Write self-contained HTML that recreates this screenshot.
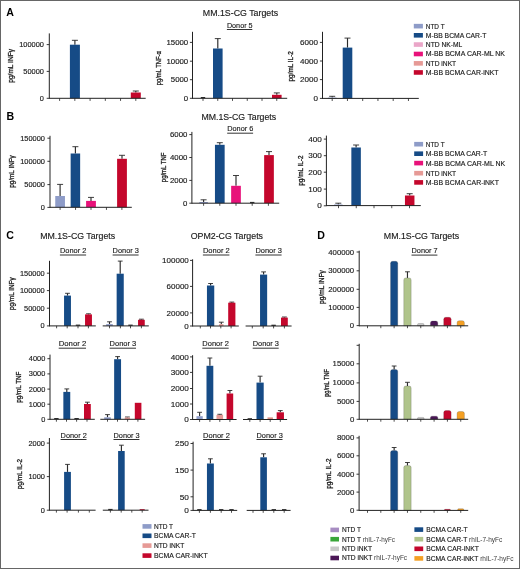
<!DOCTYPE html>
<html><head><meta charset="utf-8"><title>Figure</title>
<style>
html,body{margin:0;padding:0;background:#fff;}
body{width:520px;height:569px;overflow:hidden;}
svg{display:block;font-family:"Liberation Sans", sans-serif;will-change:transform;}
</style></head>
<body>
<svg width="520" height="569" viewBox="0 0 520 569">
<rect x="0" y="0" width="520" height="569" fill="#fff"/>
<text x="6.20" y="15.50" font-size="10.6" text-anchor="start" fill="#000" font-weight="bold">A</text>
<text x="202.80" y="16.00" font-size="8.2" text-anchor="start" fill="#1a1a1a" stroke="#1a1a1a" stroke-width="0.14" textLength="75.30" lengthAdjust="spacingAndGlyphs">MM.1S-CG Targets</text>
<text x="226.90" y="27.50" font-size="8.0" text-anchor="start" fill="#1a1a1a" stroke="#1a1a1a" stroke-width="0.14" textLength="25.70" lengthAdjust="spacingAndGlyphs">Donor 5</text>
<line x1="226.90" y1="29.50" x2="252.30" y2="29.50" stroke="#333" stroke-width="1.0"/>
<line x1="74.90" y1="40.30" x2="74.90" y2="44.70" stroke="#2a2a2a" stroke-width="1.15"/>
<line x1="71.90" y1="40.30" x2="77.90" y2="40.30" stroke="#2a2a2a" stroke-width="0.9"/>
<rect x="69.90" y="44.70" width="10.00" height="53.60" fill="#164b86"/>
<line x1="135.80" y1="91.00" x2="135.80" y2="92.50" stroke="#2a2a2a" stroke-width="1.15"/>
<line x1="132.80" y1="91.00" x2="138.80" y2="91.00" stroke="#2a2a2a" stroke-width="0.9"/>
<rect x="130.80" y="92.50" width="10.00" height="5.80" fill="#c4072c"/>
<line x1="49.30" y1="33.40" x2="49.30" y2="98.80" stroke="#222" stroke-width="1.0"/>
<line x1="49.30" y1="98.30" x2="145.70" y2="98.30" stroke="#222" stroke-width="1.0"/>
<line x1="59.60" y1="98.30" x2="59.60" y2="100.90" stroke="#222" stroke-width="0.8"/>
<line x1="74.84" y1="98.30" x2="74.84" y2="100.90" stroke="#222" stroke-width="0.8"/>
<line x1="90.08" y1="98.30" x2="90.08" y2="100.90" stroke="#222" stroke-width="0.8"/>
<line x1="105.32" y1="98.30" x2="105.32" y2="100.90" stroke="#222" stroke-width="0.8"/>
<line x1="120.56" y1="98.30" x2="120.56" y2="100.90" stroke="#222" stroke-width="0.8"/>
<line x1="135.80" y1="98.30" x2="135.80" y2="100.90" stroke="#222" stroke-width="0.8"/>
<line x1="46.70" y1="98.30" x2="49.30" y2="98.30" stroke="#222" stroke-width="0.9"/>
<text x="43.90" y="100.77" font-size="6.9" text-anchor="end" fill="#1a1a1a" stroke="#1a1a1a" stroke-width="0.14" textLength="4.12" lengthAdjust="spacingAndGlyphs">0</text>
<line x1="46.70" y1="71.40" x2="49.30" y2="71.40" stroke="#222" stroke-width="0.9"/>
<text x="43.90" y="73.87" font-size="6.9" text-anchor="end" fill="#1a1a1a" stroke="#1a1a1a" stroke-width="0.14" textLength="20.60" lengthAdjust="spacingAndGlyphs">50000</text>
<line x1="46.70" y1="44.60" x2="49.30" y2="44.60" stroke="#222" stroke-width="0.9"/>
<text x="43.90" y="47.07" font-size="6.9" text-anchor="end" fill="#1a1a1a" stroke="#1a1a1a" stroke-width="0.14" textLength="24.72" lengthAdjust="spacingAndGlyphs">100000</text>
<text transform="translate(13.20,65.90) rotate(-90)" x="0" y="0" font-size="7.5" text-anchor="middle" fill="#1a1a1a" stroke="#1a1a1a" stroke-width="0.3" textLength="33.60" lengthAdjust="spacingAndGlyphs">pg/mL INF&#947;</text>
<line x1="217.80" y1="38.60" x2="217.80" y2="48.50" stroke="#2a2a2a" stroke-width="1.15"/>
<line x1="214.80" y1="38.60" x2="220.80" y2="38.60" stroke="#2a2a2a" stroke-width="0.9"/>
<rect x="213.00" y="48.50" width="9.60" height="49.80" fill="#164b86"/>
<line x1="276.80" y1="92.90" x2="276.80" y2="94.80" stroke="#2a2a2a" stroke-width="1.15"/>
<line x1="273.80" y1="92.90" x2="279.80" y2="92.90" stroke="#2a2a2a" stroke-width="0.9"/>
<rect x="272.00" y="94.80" width="9.60" height="3.50" fill="#c4072c"/>
<line x1="192.50" y1="31.80" x2="192.50" y2="98.80" stroke="#222" stroke-width="1.0"/>
<line x1="192.50" y1="98.30" x2="287.20" y2="98.30" stroke="#222" stroke-width="1.0"/>
<line x1="203.00" y1="98.30" x2="203.00" y2="100.90" stroke="#222" stroke-width="0.8"/>
<line x1="217.75" y1="98.30" x2="217.75" y2="100.90" stroke="#222" stroke-width="0.8"/>
<line x1="232.50" y1="98.30" x2="232.50" y2="100.90" stroke="#222" stroke-width="0.8"/>
<line x1="247.25" y1="98.30" x2="247.25" y2="100.90" stroke="#222" stroke-width="0.8"/>
<line x1="262.00" y1="98.30" x2="262.00" y2="100.90" stroke="#222" stroke-width="0.8"/>
<line x1="276.75" y1="98.30" x2="276.75" y2="100.90" stroke="#222" stroke-width="0.8"/>
<line x1="189.90" y1="98.30" x2="192.50" y2="98.30" stroke="#222" stroke-width="0.9"/>
<text x="188.20" y="100.91" font-size="7.3" text-anchor="end" fill="#1a1a1a" stroke="#1a1a1a" stroke-width="0.14" textLength="4.35" lengthAdjust="spacingAndGlyphs">0</text>
<line x1="189.90" y1="79.70" x2="192.50" y2="79.70" stroke="#222" stroke-width="0.9"/>
<text x="188.20" y="82.31" font-size="7.3" text-anchor="end" fill="#1a1a1a" stroke="#1a1a1a" stroke-width="0.14" textLength="17.40" lengthAdjust="spacingAndGlyphs">5000</text>
<line x1="189.90" y1="61.20" x2="192.50" y2="61.20" stroke="#222" stroke-width="0.9"/>
<text x="188.20" y="63.81" font-size="7.3" text-anchor="end" fill="#1a1a1a" stroke="#1a1a1a" stroke-width="0.14" textLength="21.75" lengthAdjust="spacingAndGlyphs">10000</text>
<line x1="189.90" y1="42.40" x2="192.50" y2="42.40" stroke="#222" stroke-width="0.9"/>
<text x="188.20" y="45.01" font-size="7.3" text-anchor="end" fill="#1a1a1a" stroke="#1a1a1a" stroke-width="0.14" textLength="21.75" lengthAdjust="spacingAndGlyphs">15000</text>
<rect x="200.80" y="97.00" width="4.40" height="1.30" fill="#2a2a2a"/>
<text transform="translate(161.20,68.20) rotate(-90)" x="0" y="0" font-size="7.5" text-anchor="middle" fill="#1a1a1a" stroke="#1a1a1a" stroke-width="0.3" textLength="34.20" lengthAdjust="spacingAndGlyphs">pg/mL TNF-&#945;</text>
<line x1="332.20" y1="96.30" x2="332.20" y2="97.60" stroke="#2a2a2a" stroke-width="1.15"/>
<line x1="329.20" y1="96.30" x2="335.20" y2="96.30" stroke="#2a2a2a" stroke-width="0.9"/>
<rect x="327.95" y="97.60" width="8.50" height="0.80" fill="#8e9cc8"/>
<line x1="347.50" y1="38.10" x2="347.50" y2="47.60" stroke="#2a2a2a" stroke-width="1.15"/>
<line x1="344.50" y1="38.10" x2="350.50" y2="38.10" stroke="#2a2a2a" stroke-width="0.9"/>
<rect x="342.70" y="47.60" width="9.60" height="50.80" fill="#164b86"/>
<line x1="322.50" y1="31.80" x2="322.50" y2="98.90" stroke="#222" stroke-width="1.0"/>
<line x1="322.50" y1="98.40" x2="418.80" y2="98.40" stroke="#222" stroke-width="1.0"/>
<line x1="332.20" y1="98.40" x2="332.20" y2="101.00" stroke="#222" stroke-width="0.8"/>
<line x1="347.45" y1="98.40" x2="347.45" y2="101.00" stroke="#222" stroke-width="0.8"/>
<line x1="362.70" y1="98.40" x2="362.70" y2="101.00" stroke="#222" stroke-width="0.8"/>
<line x1="377.95" y1="98.40" x2="377.95" y2="101.00" stroke="#222" stroke-width="0.8"/>
<line x1="393.20" y1="98.40" x2="393.20" y2="101.00" stroke="#222" stroke-width="0.8"/>
<line x1="408.45" y1="98.40" x2="408.45" y2="101.00" stroke="#222" stroke-width="0.8"/>
<line x1="319.90" y1="98.40" x2="322.50" y2="98.40" stroke="#222" stroke-width="0.9"/>
<text x="317.90" y="101.05" font-size="7.4" text-anchor="end" fill="#1a1a1a" stroke="#1a1a1a" stroke-width="0.14" textLength="4.50" lengthAdjust="spacingAndGlyphs">0</text>
<line x1="319.90" y1="79.60" x2="322.50" y2="79.60" stroke="#222" stroke-width="0.9"/>
<text x="317.90" y="82.25" font-size="7.4" text-anchor="end" fill="#1a1a1a" stroke="#1a1a1a" stroke-width="0.14" textLength="18.00" lengthAdjust="spacingAndGlyphs">2000</text>
<line x1="319.90" y1="61.00" x2="322.50" y2="61.00" stroke="#222" stroke-width="0.9"/>
<text x="317.90" y="63.65" font-size="7.4" text-anchor="end" fill="#1a1a1a" stroke="#1a1a1a" stroke-width="0.14" textLength="18.00" lengthAdjust="spacingAndGlyphs">4000</text>
<line x1="319.90" y1="42.40" x2="322.50" y2="42.40" stroke="#222" stroke-width="0.9"/>
<text x="317.90" y="45.05" font-size="7.4" text-anchor="end" fill="#1a1a1a" stroke="#1a1a1a" stroke-width="0.14" textLength="18.00" lengthAdjust="spacingAndGlyphs">6000</text>
<text transform="translate(293.30,66.30) rotate(-90)" x="0" y="0" font-size="7.5" text-anchor="middle" fill="#1a1a1a" stroke="#1a1a1a" stroke-width="0.3" textLength="30.30" lengthAdjust="spacingAndGlyphs">pg/mL IL-2</text>
<rect x="413.80" y="23.85" width="9.10" height="4.60" fill="#8e9cc8"/>
<text x="425.80" y="28.55" font-size="6.7" text-anchor="start" fill="#1a1a1a" stroke="#1a1a1a" stroke-width="0.14" textLength="18.80" lengthAdjust="spacingAndGlyphs">NTD T</text>
<rect x="413.80" y="33.00" width="9.10" height="4.60" fill="#164b86"/>
<text x="425.80" y="37.70" font-size="6.7" text-anchor="start" fill="#1a1a1a" stroke="#1a1a1a" stroke-width="0.14" textLength="60.60" lengthAdjust="spacingAndGlyphs">M-BB BCMA CAR-T</text>
<rect x="413.80" y="42.25" width="9.10" height="4.60" fill="#eaa6c8"/>
<text x="425.80" y="46.95" font-size="6.7" text-anchor="start" fill="#1a1a1a" stroke="#1a1a1a" stroke-width="0.14" textLength="36.50" lengthAdjust="spacingAndGlyphs">NTD NK-ML</text>
<rect x="413.80" y="51.70" width="9.10" height="4.60" fill="#e8127a"/>
<text x="425.80" y="56.40" font-size="6.7" text-anchor="start" fill="#1a1a1a" stroke="#1a1a1a" stroke-width="0.14" textLength="79.20" lengthAdjust="spacingAndGlyphs">M-BB BCMA CAR-ML NK</text>
<rect x="413.80" y="61.05" width="9.10" height="4.60" fill="#e69a96"/>
<text x="425.80" y="65.75" font-size="6.7" text-anchor="start" fill="#1a1a1a" stroke="#1a1a1a" stroke-width="0.14" textLength="30.40" lengthAdjust="spacingAndGlyphs">NTD iNKT</text>
<rect x="413.80" y="70.15" width="9.10" height="4.60" fill="#c4072c"/>
<text x="425.80" y="74.85" font-size="6.7" text-anchor="start" fill="#1a1a1a" stroke="#1a1a1a" stroke-width="0.14" textLength="72.70" lengthAdjust="spacingAndGlyphs">M-BB BCMA CAR-iNKT</text>
<text x="6.60" y="119.70" font-size="10.6" text-anchor="start" fill="#000" font-weight="bold">B</text>
<text x="201.40" y="120.00" font-size="8.2" text-anchor="start" fill="#1a1a1a" stroke="#1a1a1a" stroke-width="0.14" textLength="74.70" lengthAdjust="spacingAndGlyphs">MM.1S-CG Targets</text>
<text x="227.20" y="131.20" font-size="8.0" text-anchor="start" fill="#1a1a1a" stroke="#1a1a1a" stroke-width="0.14" textLength="26.20" lengthAdjust="spacingAndGlyphs">Donor 6</text>
<line x1="227.20" y1="133.20" x2="253.10" y2="133.20" stroke="#333" stroke-width="1.0"/>
<line x1="60.10" y1="184.40" x2="60.10" y2="196.00" stroke="#2a2a2a" stroke-width="1.15"/>
<line x1="57.10" y1="184.40" x2="63.10" y2="184.40" stroke="#2a2a2a" stroke-width="0.9"/>
<rect x="55.25" y="196.00" width="9.70" height="11.30" fill="#8e9cc8"/>
<line x1="75.40" y1="146.70" x2="75.40" y2="153.50" stroke="#2a2a2a" stroke-width="1.15"/>
<line x1="72.40" y1="146.70" x2="78.40" y2="146.70" stroke="#2a2a2a" stroke-width="0.9"/>
<rect x="70.65" y="153.50" width="9.50" height="53.80" fill="#164b86"/>
<line x1="91.00" y1="197.40" x2="91.00" y2="200.90" stroke="#2a2a2a" stroke-width="1.15"/>
<line x1="88.00" y1="197.40" x2="94.00" y2="197.40" stroke="#2a2a2a" stroke-width="0.9"/>
<rect x="86.10" y="200.90" width="9.80" height="6.40" fill="#e8127a"/>
<line x1="122.00" y1="155.30" x2="122.00" y2="158.80" stroke="#2a2a2a" stroke-width="1.15"/>
<line x1="119.00" y1="155.30" x2="125.00" y2="155.30" stroke="#2a2a2a" stroke-width="0.9"/>
<rect x="117.10" y="158.80" width="9.80" height="48.50" fill="#c4072c"/>
<line x1="50.00" y1="135.80" x2="50.00" y2="207.80" stroke="#222" stroke-width="1.0"/>
<line x1="50.00" y1="207.30" x2="131.80" y2="207.30" stroke="#222" stroke-width="1.0"/>
<line x1="60.10" y1="207.30" x2="60.10" y2="209.90" stroke="#222" stroke-width="0.8"/>
<line x1="75.55" y1="207.30" x2="75.55" y2="209.90" stroke="#222" stroke-width="0.8"/>
<line x1="91.00" y1="207.30" x2="91.00" y2="209.90" stroke="#222" stroke-width="0.8"/>
<line x1="106.45" y1="207.30" x2="106.45" y2="209.90" stroke="#222" stroke-width="0.8"/>
<line x1="121.90" y1="207.30" x2="121.90" y2="209.90" stroke="#222" stroke-width="0.8"/>
<line x1="47.40" y1="207.40" x2="50.00" y2="207.40" stroke="#222" stroke-width="0.9"/>
<text x="44.90" y="209.87" font-size="6.9" text-anchor="end" fill="#1a1a1a" stroke="#1a1a1a" stroke-width="0.14" textLength="4.12" lengthAdjust="spacingAndGlyphs">0</text>
<line x1="47.40" y1="184.60" x2="50.00" y2="184.60" stroke="#222" stroke-width="0.9"/>
<text x="44.90" y="187.07" font-size="6.9" text-anchor="end" fill="#1a1a1a" stroke="#1a1a1a" stroke-width="0.14" textLength="20.60" lengthAdjust="spacingAndGlyphs">50000</text>
<line x1="47.40" y1="161.30" x2="50.00" y2="161.30" stroke="#222" stroke-width="0.9"/>
<text x="44.90" y="163.77" font-size="6.9" text-anchor="end" fill="#1a1a1a" stroke="#1a1a1a" stroke-width="0.14" textLength="24.72" lengthAdjust="spacingAndGlyphs">100000</text>
<line x1="47.40" y1="138.20" x2="50.00" y2="138.20" stroke="#222" stroke-width="0.9"/>
<text x="44.90" y="140.67" font-size="6.9" text-anchor="end" fill="#1a1a1a" stroke="#1a1a1a" stroke-width="0.14" textLength="24.72" lengthAdjust="spacingAndGlyphs">150000</text>
<text transform="translate(14.30,171.50) rotate(-90)" x="0" y="0" font-size="7.5" text-anchor="middle" fill="#1a1a1a" stroke="#1a1a1a" stroke-width="0.3" textLength="32.50" lengthAdjust="spacingAndGlyphs">pg/mL INF&#947;</text>
<line x1="203.60" y1="199.80" x2="203.60" y2="202.00" stroke="#2a2a2a" stroke-width="1.15"/>
<line x1="200.60" y1="199.80" x2="206.60" y2="199.80" stroke="#2a2a2a" stroke-width="0.9"/>
<rect x="199.35" y="202.00" width="8.50" height="1.20" fill="#8e9cc8"/>
<line x1="219.80" y1="142.70" x2="219.80" y2="144.80" stroke="#2a2a2a" stroke-width="1.15"/>
<line x1="216.80" y1="142.70" x2="222.80" y2="142.70" stroke="#2a2a2a" stroke-width="0.9"/>
<rect x="214.95" y="144.80" width="9.70" height="58.40" fill="#164b86"/>
<line x1="236.00" y1="175.50" x2="236.00" y2="185.80" stroke="#2a2a2a" stroke-width="1.15"/>
<line x1="233.00" y1="175.50" x2="239.00" y2="175.50" stroke="#2a2a2a" stroke-width="0.9"/>
<rect x="231.15" y="185.80" width="9.70" height="17.40" fill="#e8127a"/>
<line x1="269.00" y1="151.60" x2="269.00" y2="155.10" stroke="#2a2a2a" stroke-width="1.15"/>
<line x1="266.00" y1="151.60" x2="272.00" y2="151.60" stroke="#2a2a2a" stroke-width="0.9"/>
<rect x="264.15" y="155.10" width="9.70" height="48.10" fill="#c4072c"/>
<line x1="191.90" y1="131.90" x2="191.90" y2="203.70" stroke="#222" stroke-width="1.0"/>
<line x1="191.90" y1="203.20" x2="279.20" y2="203.20" stroke="#222" stroke-width="1.0"/>
<line x1="203.60" y1="203.20" x2="203.60" y2="205.80" stroke="#222" stroke-width="0.8"/>
<line x1="219.80" y1="203.20" x2="219.80" y2="205.80" stroke="#222" stroke-width="0.8"/>
<line x1="236.00" y1="203.20" x2="236.00" y2="205.80" stroke="#222" stroke-width="0.8"/>
<line x1="252.20" y1="203.20" x2="252.20" y2="205.80" stroke="#222" stroke-width="0.8"/>
<line x1="268.40" y1="203.20" x2="268.40" y2="205.80" stroke="#222" stroke-width="0.8"/>
<line x1="189.30" y1="203.20" x2="191.90" y2="203.20" stroke="#222" stroke-width="0.9"/>
<text x="187.40" y="205.81" font-size="7.3" text-anchor="end" fill="#1a1a1a" stroke="#1a1a1a" stroke-width="0.14" textLength="4.35" lengthAdjust="spacingAndGlyphs">0</text>
<line x1="189.30" y1="180.40" x2="191.90" y2="180.40" stroke="#222" stroke-width="0.9"/>
<text x="187.40" y="183.01" font-size="7.3" text-anchor="end" fill="#1a1a1a" stroke="#1a1a1a" stroke-width="0.14" textLength="17.40" lengthAdjust="spacingAndGlyphs">2000</text>
<line x1="189.30" y1="157.50" x2="191.90" y2="157.50" stroke="#222" stroke-width="0.9"/>
<text x="187.40" y="160.11" font-size="7.3" text-anchor="end" fill="#1a1a1a" stroke="#1a1a1a" stroke-width="0.14" textLength="17.40" lengthAdjust="spacingAndGlyphs">4000</text>
<line x1="189.30" y1="134.60" x2="191.90" y2="134.60" stroke="#222" stroke-width="0.9"/>
<text x="187.40" y="137.21" font-size="7.3" text-anchor="end" fill="#1a1a1a" stroke="#1a1a1a" stroke-width="0.14" textLength="17.40" lengthAdjust="spacingAndGlyphs">6000</text>
<rect x="250.00" y="201.90" width="4.40" height="1.30" fill="#2a2a2a"/>
<text transform="translate(165.60,167.40) rotate(-90)" x="0" y="0" font-size="7.5" text-anchor="middle" fill="#1a1a1a" stroke="#1a1a1a" stroke-width="0.3" textLength="29.60" lengthAdjust="spacingAndGlyphs">pg/mL TNF</text>
<line x1="338.30" y1="203.20" x2="338.30" y2="204.50" stroke="#2a2a2a" stroke-width="1.15"/>
<line x1="335.30" y1="203.20" x2="341.30" y2="203.20" stroke="#2a2a2a" stroke-width="0.9"/>
<rect x="334.05" y="204.50" width="8.50" height="1.10" fill="#8e9cc8"/>
<line x1="356.10" y1="145.00" x2="356.10" y2="147.50" stroke="#2a2a2a" stroke-width="1.15"/>
<line x1="353.10" y1="145.00" x2="359.10" y2="145.00" stroke="#2a2a2a" stroke-width="0.9"/>
<rect x="351.35" y="147.50" width="9.50" height="58.10" fill="#164b86"/>
<line x1="409.70" y1="193.70" x2="409.70" y2="195.50" stroke="#2a2a2a" stroke-width="1.15"/>
<line x1="406.70" y1="193.70" x2="412.70" y2="193.70" stroke="#2a2a2a" stroke-width="0.9"/>
<rect x="404.95" y="195.50" width="9.50" height="10.10" fill="#c4072c"/>
<line x1="326.40" y1="135.60" x2="326.40" y2="206.10" stroke="#222" stroke-width="1.0"/>
<line x1="326.40" y1="205.60" x2="420.80" y2="205.60" stroke="#222" stroke-width="1.0"/>
<line x1="338.50" y1="205.60" x2="338.50" y2="208.20" stroke="#222" stroke-width="0.8"/>
<line x1="356.25" y1="205.60" x2="356.25" y2="208.20" stroke="#222" stroke-width="0.8"/>
<line x1="374.00" y1="205.60" x2="374.00" y2="208.20" stroke="#222" stroke-width="0.8"/>
<line x1="391.75" y1="205.60" x2="391.75" y2="208.20" stroke="#222" stroke-width="0.8"/>
<line x1="409.50" y1="205.60" x2="409.50" y2="208.20" stroke="#222" stroke-width="0.8"/>
<line x1="323.80" y1="205.80" x2="326.40" y2="205.80" stroke="#222" stroke-width="0.9"/>
<text x="321.90" y="208.45" font-size="7.4" text-anchor="end" fill="#1a1a1a" stroke="#1a1a1a" stroke-width="0.14" textLength="4.55" lengthAdjust="spacingAndGlyphs">0</text>
<line x1="323.80" y1="189.10" x2="326.40" y2="189.10" stroke="#222" stroke-width="0.9"/>
<text x="321.90" y="191.75" font-size="7.4" text-anchor="end" fill="#1a1a1a" stroke="#1a1a1a" stroke-width="0.14" textLength="13.65" lengthAdjust="spacingAndGlyphs">100</text>
<line x1="323.80" y1="172.20" x2="326.40" y2="172.20" stroke="#222" stroke-width="0.9"/>
<text x="321.90" y="174.85" font-size="7.4" text-anchor="end" fill="#1a1a1a" stroke="#1a1a1a" stroke-width="0.14" textLength="13.65" lengthAdjust="spacingAndGlyphs">200</text>
<line x1="323.80" y1="155.70" x2="326.40" y2="155.70" stroke="#222" stroke-width="0.9"/>
<text x="321.90" y="158.35" font-size="7.4" text-anchor="end" fill="#1a1a1a" stroke="#1a1a1a" stroke-width="0.14" textLength="13.65" lengthAdjust="spacingAndGlyphs">300</text>
<line x1="323.80" y1="139.10" x2="326.40" y2="139.10" stroke="#222" stroke-width="0.9"/>
<text x="321.90" y="141.75" font-size="7.4" text-anchor="end" fill="#1a1a1a" stroke="#1a1a1a" stroke-width="0.14" textLength="13.65" lengthAdjust="spacingAndGlyphs">400</text>
<text transform="translate(302.70,170.60) rotate(-90)" x="0" y="0" font-size="7.5" text-anchor="middle" fill="#1a1a1a" stroke="#1a1a1a" stroke-width="0.3" textLength="30.30" lengthAdjust="spacingAndGlyphs">pg/mL IL-2</text>
<rect x="414.20" y="141.90" width="8.90" height="4.60" fill="#8e9cc8"/>
<text x="425.80" y="146.60" font-size="6.7" text-anchor="start" fill="#1a1a1a" stroke="#1a1a1a" stroke-width="0.14" textLength="18.80" lengthAdjust="spacingAndGlyphs">NTD T</text>
<rect x="414.20" y="151.40" width="8.90" height="4.60" fill="#164b86"/>
<text x="425.80" y="156.10" font-size="6.7" text-anchor="start" fill="#1a1a1a" stroke="#1a1a1a" stroke-width="0.14" textLength="61.50" lengthAdjust="spacingAndGlyphs">M-BB BCMA CAR-T</text>
<rect x="414.20" y="160.80" width="8.90" height="4.60" fill="#e8127a"/>
<text x="425.80" y="165.50" font-size="6.7" text-anchor="start" fill="#1a1a1a" stroke="#1a1a1a" stroke-width="0.14" textLength="79.40" lengthAdjust="spacingAndGlyphs">M-BB BCMA CAR-ML NK</text>
<rect x="414.20" y="170.90" width="8.90" height="4.60" fill="#e69a96"/>
<text x="425.80" y="175.60" font-size="6.7" text-anchor="start" fill="#1a1a1a" stroke="#1a1a1a" stroke-width="0.14" textLength="30.40" lengthAdjust="spacingAndGlyphs">NTD iNKT</text>
<rect x="414.20" y="180.10" width="8.90" height="4.60" fill="#c4072c"/>
<text x="425.80" y="184.80" font-size="6.7" text-anchor="start" fill="#1a1a1a" stroke="#1a1a1a" stroke-width="0.14" textLength="73.10" lengthAdjust="spacingAndGlyphs">M-BB BCMA CAR-iNKT</text>
<text x="6.20" y="239.20" font-size="10.6" text-anchor="start" fill="#000" font-weight="bold">C</text>
<text x="40.20" y="239.30" font-size="8.2" text-anchor="start" fill="#1a1a1a" stroke="#1a1a1a" stroke-width="0.14" textLength="74.90" lengthAdjust="spacingAndGlyphs">MM.1S-CG Targets</text>
<text x="190.70" y="239.30" font-size="8.2" text-anchor="start" fill="#1a1a1a" stroke="#1a1a1a" stroke-width="0.14" textLength="72.30" lengthAdjust="spacingAndGlyphs">OPM2-CG Targets</text>
<text x="59.90" y="253.00" font-size="8.0" text-anchor="start" fill="#1a1a1a" stroke="#1a1a1a" stroke-width="0.14" textLength="26.50" lengthAdjust="spacingAndGlyphs">Donor 2</text>
<line x1="59.90" y1="255.00" x2="86.10" y2="255.00" stroke="#333" stroke-width="1.0"/>
<text x="112.60" y="253.00" font-size="8.0" text-anchor="start" fill="#1a1a1a" stroke="#1a1a1a" stroke-width="0.14" textLength="26.30" lengthAdjust="spacingAndGlyphs">Donor 3</text>
<line x1="112.60" y1="255.00" x2="138.60" y2="255.00" stroke="#333" stroke-width="1.0"/>
<text x="202.90" y="253.00" font-size="8.0" text-anchor="start" fill="#1a1a1a" stroke="#1a1a1a" stroke-width="0.14" textLength="26.80" lengthAdjust="spacingAndGlyphs">Donor 2</text>
<line x1="202.90" y1="255.00" x2="229.40" y2="255.00" stroke="#333" stroke-width="1.0"/>
<text x="255.40" y="253.00" font-size="8.0" text-anchor="start" fill="#1a1a1a" stroke="#1a1a1a" stroke-width="0.14" textLength="26.50" lengthAdjust="spacingAndGlyphs">Donor 3</text>
<line x1="255.40" y1="255.00" x2="281.60" y2="255.00" stroke="#333" stroke-width="1.0"/>
<text x="58.70" y="346.20" font-size="8.0" text-anchor="start" fill="#1a1a1a" stroke="#1a1a1a" stroke-width="0.14" textLength="27.60" lengthAdjust="spacingAndGlyphs">Donor 2</text>
<line x1="58.70" y1="348.20" x2="86.00" y2="348.20" stroke="#333" stroke-width="1.0"/>
<text x="109.60" y="346.20" font-size="8.0" text-anchor="start" fill="#1a1a1a" stroke="#1a1a1a" stroke-width="0.14" textLength="26.70" lengthAdjust="spacingAndGlyphs">Donor 3</text>
<line x1="109.60" y1="348.20" x2="136.00" y2="348.20" stroke="#333" stroke-width="1.0"/>
<text x="202.30" y="346.20" font-size="8.0" text-anchor="start" fill="#1a1a1a" stroke="#1a1a1a" stroke-width="0.14" textLength="26.70" lengthAdjust="spacingAndGlyphs">Donor 2</text>
<line x1="202.30" y1="348.20" x2="228.70" y2="348.20" stroke="#333" stroke-width="1.0"/>
<text x="252.70" y="346.20" font-size="8.0" text-anchor="start" fill="#1a1a1a" stroke="#1a1a1a" stroke-width="0.14" textLength="26.30" lengthAdjust="spacingAndGlyphs">Donor 3</text>
<line x1="252.70" y1="348.20" x2="278.70" y2="348.20" stroke="#333" stroke-width="1.0"/>
<text x="60.60" y="437.50" font-size="8.0" text-anchor="start" fill="#1a1a1a" stroke="#1a1a1a" stroke-width="0.14" textLength="26.20" lengthAdjust="spacingAndGlyphs">Donor 2</text>
<line x1="60.60" y1="439.50" x2="86.50" y2="439.50" stroke="#333" stroke-width="1.0"/>
<text x="113.50" y="437.50" font-size="8.0" text-anchor="start" fill="#1a1a1a" stroke="#1a1a1a" stroke-width="0.14" textLength="26.20" lengthAdjust="spacingAndGlyphs">Donor 3</text>
<line x1="113.50" y1="439.50" x2="139.40" y2="439.50" stroke="#333" stroke-width="1.0"/>
<text x="203.10" y="437.50" font-size="8.0" text-anchor="start" fill="#1a1a1a" stroke="#1a1a1a" stroke-width="0.14" textLength="26.80" lengthAdjust="spacingAndGlyphs">Donor 2</text>
<line x1="203.10" y1="439.50" x2="229.60" y2="439.50" stroke="#333" stroke-width="1.0"/>
<text x="256.50" y="437.50" font-size="8.0" text-anchor="start" fill="#1a1a1a" stroke="#1a1a1a" stroke-width="0.14" textLength="26.30" lengthAdjust="spacingAndGlyphs">Donor 3</text>
<line x1="256.50" y1="439.50" x2="282.50" y2="439.50" stroke="#333" stroke-width="1.0"/>
<line x1="67.50" y1="293.30" x2="67.50" y2="295.60" stroke="#2a2a2a" stroke-width="1.15"/>
<line x1="65.10" y1="293.30" x2="69.90" y2="293.30" stroke="#2a2a2a" stroke-width="0.9"/>
<rect x="64.05" y="295.60" width="6.90" height="30.30" fill="#164b86"/>
<line x1="88.50" y1="313.80" x2="88.50" y2="314.40" stroke="#2a2a2a" stroke-width="1.15"/>
<line x1="86.10" y1="313.80" x2="90.90" y2="313.80" stroke="#2a2a2a" stroke-width="0.9"/>
<rect x="85.05" y="314.40" width="6.90" height="11.50" fill="#c4072c"/>
<line x1="109.50" y1="321.80" x2="109.50" y2="324.10" stroke="#2a2a2a" stroke-width="1.15"/>
<line x1="107.10" y1="321.80" x2="111.90" y2="321.80" stroke="#2a2a2a" stroke-width="0.9"/>
<rect x="106.20" y="324.10" width="6.60" height="1.80" fill="#8e9cc8"/>
<line x1="120.20" y1="261.10" x2="120.20" y2="273.70" stroke="#2a2a2a" stroke-width="1.15"/>
<line x1="117.80" y1="261.10" x2="122.60" y2="261.10" stroke="#2a2a2a" stroke-width="0.9"/>
<rect x="116.65" y="273.70" width="7.10" height="52.20" fill="#164b86"/>
<line x1="141.40" y1="319.20" x2="141.40" y2="319.80" stroke="#2a2a2a" stroke-width="1.15"/>
<line x1="139.00" y1="319.20" x2="143.80" y2="319.20" stroke="#2a2a2a" stroke-width="0.9"/>
<rect x="138.05" y="319.80" width="6.70" height="6.10" fill="#c4072c"/>
<line x1="49.50" y1="260.80" x2="49.50" y2="326.40" stroke="#222" stroke-width="1.0"/>
<line x1="49.50" y1="325.90" x2="95.80" y2="325.90" stroke="#222" stroke-width="1.0"/>
<line x1="102.70" y1="325.90" x2="148.80" y2="325.90" stroke="#222" stroke-width="1.0"/>
<line x1="56.60" y1="325.90" x2="56.60" y2="328.30" stroke="#222" stroke-width="0.8"/>
<line x1="67.20" y1="325.90" x2="67.20" y2="328.30" stroke="#222" stroke-width="0.8"/>
<line x1="78.00" y1="325.90" x2="78.00" y2="328.30" stroke="#222" stroke-width="0.8"/>
<line x1="88.40" y1="325.90" x2="88.40" y2="328.30" stroke="#222" stroke-width="0.8"/>
<line x1="109.50" y1="325.90" x2="109.50" y2="328.30" stroke="#222" stroke-width="0.8"/>
<line x1="120.40" y1="325.90" x2="120.40" y2="328.30" stroke="#222" stroke-width="0.8"/>
<line x1="130.50" y1="325.90" x2="130.50" y2="328.30" stroke="#222" stroke-width="0.8"/>
<line x1="141.40" y1="325.90" x2="141.40" y2="328.30" stroke="#222" stroke-width="0.8"/>
<line x1="46.90" y1="325.90" x2="49.50" y2="325.90" stroke="#222" stroke-width="0.9"/>
<text x="44.70" y="328.37" font-size="6.9" text-anchor="end" fill="#1a1a1a" stroke="#1a1a1a" stroke-width="0.14" textLength="4.12" lengthAdjust="spacingAndGlyphs">0</text>
<line x1="46.90" y1="308.20" x2="49.50" y2="308.20" stroke="#222" stroke-width="0.9"/>
<text x="44.70" y="310.67" font-size="6.9" text-anchor="end" fill="#1a1a1a" stroke="#1a1a1a" stroke-width="0.14" textLength="20.60" lengthAdjust="spacingAndGlyphs">50000</text>
<line x1="46.90" y1="290.60" x2="49.50" y2="290.60" stroke="#222" stroke-width="0.9"/>
<text x="44.70" y="293.07" font-size="6.9" text-anchor="end" fill="#1a1a1a" stroke="#1a1a1a" stroke-width="0.14" textLength="24.72" lengthAdjust="spacingAndGlyphs">100000</text>
<line x1="46.90" y1="273.20" x2="49.50" y2="273.20" stroke="#222" stroke-width="0.9"/>
<text x="44.70" y="275.67" font-size="6.9" text-anchor="end" fill="#1a1a1a" stroke="#1a1a1a" stroke-width="0.14" textLength="24.72" lengthAdjust="spacingAndGlyphs">150000</text>
<rect x="75.80" y="324.60" width="4.40" height="1.30" fill="#2a2a2a"/>
<rect x="128.30" y="324.60" width="4.40" height="1.30" fill="#2a2a2a"/>
<text transform="translate(14.00,293.70) rotate(-90)" x="0" y="0" font-size="7.5" text-anchor="middle" fill="#1a1a1a" stroke="#1a1a1a" stroke-width="0.3" textLength="32.60" lengthAdjust="spacingAndGlyphs">pg/mL INF&#947;</text>
<line x1="210.60" y1="283.50" x2="210.60" y2="285.50" stroke="#2a2a2a" stroke-width="1.15"/>
<line x1="208.20" y1="283.50" x2="213.00" y2="283.50" stroke="#2a2a2a" stroke-width="0.9"/>
<rect x="206.95" y="285.50" width="7.30" height="40.50" fill="#164b86"/>
<line x1="221.30" y1="322.20" x2="221.30" y2="324.20" stroke="#2a2a2a" stroke-width="1.15"/>
<line x1="218.90" y1="322.20" x2="223.70" y2="322.20" stroke="#2a2a2a" stroke-width="0.9"/>
<rect x="219.10" y="324.20" width="4.40" height="1.80" fill="#e69a96"/>
<line x1="231.80" y1="302.10" x2="231.80" y2="302.70" stroke="#2a2a2a" stroke-width="1.15"/>
<line x1="229.40" y1="302.10" x2="234.20" y2="302.10" stroke="#2a2a2a" stroke-width="0.9"/>
<rect x="228.20" y="302.70" width="7.20" height="23.30" fill="#c4072c"/>
<line x1="263.60" y1="271.90" x2="263.60" y2="274.60" stroke="#2a2a2a" stroke-width="1.15"/>
<line x1="261.20" y1="271.90" x2="266.00" y2="271.90" stroke="#2a2a2a" stroke-width="0.9"/>
<rect x="260.05" y="274.60" width="7.10" height="51.40" fill="#164b86"/>
<line x1="284.40" y1="317.00" x2="284.40" y2="317.60" stroke="#2a2a2a" stroke-width="1.15"/>
<line x1="282.00" y1="317.00" x2="286.80" y2="317.00" stroke="#2a2a2a" stroke-width="0.9"/>
<rect x="281.00" y="317.60" width="6.80" height="8.40" fill="#c4072c"/>
<line x1="192.60" y1="259.30" x2="192.60" y2="326.50" stroke="#222" stroke-width="1.0"/>
<line x1="192.60" y1="326.00" x2="238.80" y2="326.00" stroke="#222" stroke-width="1.0"/>
<line x1="245.60" y1="326.00" x2="291.60" y2="326.00" stroke="#222" stroke-width="1.0"/>
<line x1="200.30" y1="326.00" x2="200.30" y2="328.40" stroke="#222" stroke-width="0.8"/>
<line x1="210.50" y1="326.00" x2="210.50" y2="328.40" stroke="#222" stroke-width="0.8"/>
<line x1="220.80" y1="326.00" x2="220.80" y2="328.40" stroke="#222" stroke-width="0.8"/>
<line x1="231.10" y1="326.00" x2="231.10" y2="328.40" stroke="#222" stroke-width="0.8"/>
<line x1="252.30" y1="326.00" x2="252.30" y2="328.40" stroke="#222" stroke-width="0.8"/>
<line x1="263.20" y1="326.00" x2="263.20" y2="328.40" stroke="#222" stroke-width="0.8"/>
<line x1="273.60" y1="326.00" x2="273.60" y2="328.40" stroke="#222" stroke-width="0.8"/>
<line x1="284.40" y1="326.00" x2="284.40" y2="328.40" stroke="#222" stroke-width="0.8"/>
<line x1="190.00" y1="326.00" x2="192.60" y2="326.00" stroke="#222" stroke-width="0.9"/>
<text x="188.80" y="328.83" font-size="7.9" text-anchor="end" fill="#1a1a1a" stroke="#1a1a1a" stroke-width="0.14" textLength="4.45" lengthAdjust="spacingAndGlyphs">0</text>
<line x1="190.00" y1="312.90" x2="192.60" y2="312.90" stroke="#222" stroke-width="0.9"/>
<text x="188.80" y="315.73" font-size="7.9" text-anchor="end" fill="#1a1a1a" stroke="#1a1a1a" stroke-width="0.14" textLength="22.25" lengthAdjust="spacingAndGlyphs">20000</text>
<line x1="190.00" y1="286.40" x2="192.60" y2="286.40" stroke="#222" stroke-width="0.9"/>
<text x="188.80" y="289.23" font-size="7.9" text-anchor="end" fill="#1a1a1a" stroke="#1a1a1a" stroke-width="0.14" textLength="22.25" lengthAdjust="spacingAndGlyphs">60000</text>
<line x1="190.00" y1="260.40" x2="192.60" y2="260.40" stroke="#222" stroke-width="0.9"/>
<text x="188.80" y="263.23" font-size="7.9" text-anchor="end" fill="#1a1a1a" stroke="#1a1a1a" stroke-width="0.14" textLength="26.70" lengthAdjust="spacingAndGlyphs">100000</text>
<rect x="271.40" y="324.70" width="4.40" height="1.30" fill="#2a2a2a"/>
<line x1="66.80" y1="388.90" x2="66.80" y2="391.90" stroke="#2a2a2a" stroke-width="1.15"/>
<line x1="64.40" y1="388.90" x2="69.20" y2="388.90" stroke="#2a2a2a" stroke-width="0.9"/>
<rect x="63.35" y="391.90" width="6.90" height="27.40" fill="#164b86"/>
<line x1="87.40" y1="402.20" x2="87.40" y2="404.00" stroke="#2a2a2a" stroke-width="1.15"/>
<line x1="85.00" y1="402.20" x2="89.80" y2="402.20" stroke="#2a2a2a" stroke-width="0.9"/>
<rect x="84.00" y="404.00" width="6.80" height="15.30" fill="#c4072c"/>
<line x1="107.50" y1="414.60" x2="107.50" y2="417.30" stroke="#2a2a2a" stroke-width="1.15"/>
<line x1="105.10" y1="414.60" x2="109.90" y2="414.60" stroke="#2a2a2a" stroke-width="0.9"/>
<rect x="104.20" y="417.30" width="6.60" height="2.00" fill="#8e9cc8"/>
<line x1="117.60" y1="356.60" x2="117.60" y2="359.20" stroke="#2a2a2a" stroke-width="1.15"/>
<line x1="115.20" y1="356.60" x2="120.00" y2="356.60" stroke="#2a2a2a" stroke-width="0.9"/>
<rect x="114.15" y="359.20" width="6.90" height="60.10" fill="#164b86"/>
<line x1="127.40" y1="417.00" x2="127.40" y2="417.50" stroke="#2a2a2a" stroke-width="1.15"/>
<line x1="125.00" y1="417.00" x2="129.80" y2="417.00" stroke="#2a2a2a" stroke-width="0.9"/>
<rect x="124.75" y="417.50" width="5.30" height="1.80" fill="#e69a96"/>
<rect x="134.80" y="402.80" width="6.60" height="16.50" fill="#c4072c"/>
<line x1="50.00" y1="354.60" x2="50.00" y2="419.80" stroke="#222" stroke-width="1.0"/>
<line x1="50.00" y1="419.30" x2="94.80" y2="419.30" stroke="#222" stroke-width="1.0"/>
<line x1="100.30" y1="419.30" x2="145.10" y2="419.30" stroke="#222" stroke-width="1.0"/>
<line x1="56.40" y1="419.30" x2="56.40" y2="421.70" stroke="#222" stroke-width="0.8"/>
<line x1="66.50" y1="419.30" x2="66.50" y2="421.70" stroke="#222" stroke-width="0.8"/>
<line x1="76.60" y1="419.30" x2="76.60" y2="421.70" stroke="#222" stroke-width="0.8"/>
<line x1="87.00" y1="419.30" x2="87.00" y2="421.70" stroke="#222" stroke-width="0.8"/>
<line x1="107.50" y1="419.30" x2="107.50" y2="421.70" stroke="#222" stroke-width="0.8"/>
<line x1="117.50" y1="419.30" x2="117.50" y2="421.70" stroke="#222" stroke-width="0.8"/>
<line x1="127.60" y1="419.30" x2="127.60" y2="421.70" stroke="#222" stroke-width="0.8"/>
<line x1="137.90" y1="419.30" x2="137.90" y2="421.70" stroke="#222" stroke-width="0.8"/>
<line x1="47.40" y1="419.30" x2="50.00" y2="419.30" stroke="#222" stroke-width="0.9"/>
<text x="45.30" y="421.77" font-size="6.9" text-anchor="end" fill="#1a1a1a" stroke="#1a1a1a" stroke-width="0.14" textLength="4.12" lengthAdjust="spacingAndGlyphs">0</text>
<line x1="47.40" y1="404.20" x2="50.00" y2="404.20" stroke="#222" stroke-width="0.9"/>
<text x="45.30" y="406.67" font-size="6.9" text-anchor="end" fill="#1a1a1a" stroke="#1a1a1a" stroke-width="0.14" textLength="16.48" lengthAdjust="spacingAndGlyphs">1000</text>
<line x1="47.40" y1="389.10" x2="50.00" y2="389.10" stroke="#222" stroke-width="0.9"/>
<text x="45.30" y="391.57" font-size="6.9" text-anchor="end" fill="#1a1a1a" stroke="#1a1a1a" stroke-width="0.14" textLength="16.48" lengthAdjust="spacingAndGlyphs">2000</text>
<line x1="47.40" y1="373.90" x2="50.00" y2="373.90" stroke="#222" stroke-width="0.9"/>
<text x="45.30" y="376.37" font-size="6.9" text-anchor="end" fill="#1a1a1a" stroke="#1a1a1a" stroke-width="0.14" textLength="16.48" lengthAdjust="spacingAndGlyphs">3000</text>
<line x1="47.40" y1="358.70" x2="50.00" y2="358.70" stroke="#222" stroke-width="0.9"/>
<text x="45.30" y="361.17" font-size="6.9" text-anchor="end" fill="#1a1a1a" stroke="#1a1a1a" stroke-width="0.14" textLength="16.48" lengthAdjust="spacingAndGlyphs">4000</text>
<rect x="54.20" y="418.00" width="4.40" height="1.30" fill="#2a2a2a"/>
<rect x="74.40" y="418.00" width="4.40" height="1.30" fill="#2a2a2a"/>
<text transform="translate(21.40,387.20) rotate(-90)" x="0" y="0" font-size="7.5" text-anchor="middle" fill="#1a1a1a" stroke="#1a1a1a" stroke-width="0.3" textLength="31.20" lengthAdjust="spacingAndGlyphs">pg/mL TNF</text>
<line x1="199.60" y1="412.30" x2="199.60" y2="416.20" stroke="#2a2a2a" stroke-width="1.15"/>
<line x1="197.20" y1="412.30" x2="202.00" y2="412.30" stroke="#2a2a2a" stroke-width="0.9"/>
<rect x="196.45" y="416.20" width="6.30" height="3.30" fill="#8e9cc8"/>
<line x1="209.90" y1="358.00" x2="209.90" y2="365.80" stroke="#2a2a2a" stroke-width="1.15"/>
<line x1="207.50" y1="358.00" x2="212.30" y2="358.00" stroke="#2a2a2a" stroke-width="0.9"/>
<rect x="206.50" y="365.80" width="6.80" height="53.70" fill="#164b86"/>
<line x1="219.80" y1="414.30" x2="219.80" y2="414.90" stroke="#2a2a2a" stroke-width="1.15"/>
<line x1="217.40" y1="414.30" x2="222.20" y2="414.30" stroke="#2a2a2a" stroke-width="0.9"/>
<rect x="216.50" y="414.90" width="6.60" height="4.60" fill="#e69a96"/>
<line x1="229.90" y1="390.50" x2="229.90" y2="393.50" stroke="#2a2a2a" stroke-width="1.15"/>
<line x1="227.50" y1="390.50" x2="232.30" y2="390.50" stroke="#2a2a2a" stroke-width="0.9"/>
<rect x="226.60" y="393.50" width="6.60" height="26.00" fill="#c4072c"/>
<line x1="260.10" y1="376.20" x2="260.10" y2="382.60" stroke="#2a2a2a" stroke-width="1.15"/>
<line x1="257.70" y1="376.20" x2="262.50" y2="376.20" stroke="#2a2a2a" stroke-width="0.9"/>
<rect x="256.50" y="382.60" width="7.20" height="36.90" fill="#164b86"/>
<rect x="267.50" y="417.40" width="5.40" height="2.10" fill="#d98c80"/>
<line x1="280.30" y1="410.60" x2="280.30" y2="412.30" stroke="#2a2a2a" stroke-width="1.15"/>
<line x1="277.90" y1="410.60" x2="282.70" y2="410.60" stroke="#2a2a2a" stroke-width="0.9"/>
<rect x="276.65" y="412.30" width="7.30" height="7.20" fill="#c4072c"/>
<line x1="192.60" y1="355.20" x2="192.60" y2="420.00" stroke="#222" stroke-width="1.0"/>
<line x1="192.60" y1="419.50" x2="236.60" y2="419.50" stroke="#222" stroke-width="1.0"/>
<line x1="243.00" y1="419.50" x2="287.10" y2="419.50" stroke="#222" stroke-width="1.0"/>
<line x1="199.60" y1="419.50" x2="199.60" y2="421.90" stroke="#222" stroke-width="0.8"/>
<line x1="209.90" y1="419.50" x2="209.90" y2="421.90" stroke="#222" stroke-width="0.8"/>
<line x1="219.80" y1="419.50" x2="219.80" y2="421.90" stroke="#222" stroke-width="0.8"/>
<line x1="229.90" y1="419.50" x2="229.90" y2="421.90" stroke="#222" stroke-width="0.8"/>
<line x1="249.80" y1="419.50" x2="249.80" y2="421.90" stroke="#222" stroke-width="0.8"/>
<line x1="260.10" y1="419.50" x2="260.10" y2="421.90" stroke="#222" stroke-width="0.8"/>
<line x1="270.20" y1="419.50" x2="270.20" y2="421.90" stroke="#222" stroke-width="0.8"/>
<line x1="280.30" y1="419.50" x2="280.30" y2="421.90" stroke="#222" stroke-width="0.8"/>
<line x1="190.00" y1="419.50" x2="192.60" y2="419.50" stroke="#222" stroke-width="0.9"/>
<text x="188.90" y="422.33" font-size="7.9" text-anchor="end" fill="#1a1a1a" stroke="#1a1a1a" stroke-width="0.14" textLength="4.55" lengthAdjust="spacingAndGlyphs">0</text>
<line x1="190.00" y1="404.00" x2="192.60" y2="404.00" stroke="#222" stroke-width="0.9"/>
<text x="188.90" y="406.83" font-size="7.9" text-anchor="end" fill="#1a1a1a" stroke="#1a1a1a" stroke-width="0.14" textLength="18.20" lengthAdjust="spacingAndGlyphs">1000</text>
<line x1="190.00" y1="388.50" x2="192.60" y2="388.50" stroke="#222" stroke-width="0.9"/>
<text x="188.90" y="391.33" font-size="7.9" text-anchor="end" fill="#1a1a1a" stroke="#1a1a1a" stroke-width="0.14" textLength="18.20" lengthAdjust="spacingAndGlyphs">2000</text>
<line x1="190.00" y1="372.40" x2="192.60" y2="372.40" stroke="#222" stroke-width="0.9"/>
<text x="188.90" y="375.23" font-size="7.9" text-anchor="end" fill="#1a1a1a" stroke="#1a1a1a" stroke-width="0.14" textLength="18.20" lengthAdjust="spacingAndGlyphs">3000</text>
<line x1="190.00" y1="356.90" x2="192.60" y2="356.90" stroke="#222" stroke-width="0.9"/>
<text x="188.90" y="359.73" font-size="7.9" text-anchor="end" fill="#1a1a1a" stroke="#1a1a1a" stroke-width="0.14" textLength="18.20" lengthAdjust="spacingAndGlyphs">4000</text>
<rect x="247.60" y="418.20" width="4.40" height="1.30" fill="#2a2a2a"/>
<line x1="67.50" y1="464.40" x2="67.50" y2="471.90" stroke="#2a2a2a" stroke-width="1.15"/>
<line x1="65.10" y1="464.40" x2="69.90" y2="464.40" stroke="#2a2a2a" stroke-width="0.9"/>
<rect x="64.10" y="471.90" width="6.80" height="38.30" fill="#164b86"/>
<line x1="121.40" y1="445.20" x2="121.40" y2="451.00" stroke="#2a2a2a" stroke-width="1.15"/>
<line x1="119.00" y1="445.20" x2="123.80" y2="445.20" stroke="#2a2a2a" stroke-width="0.9"/>
<rect x="118.10" y="451.00" width="6.60" height="59.20" fill="#164b86"/>
<rect x="139.70" y="509.20" width="5.00" height="1.00" fill="#c4072c"/>
<line x1="49.40" y1="438.00" x2="49.40" y2="510.70" stroke="#222" stroke-width="1.0"/>
<line x1="49.40" y1="510.20" x2="95.60" y2="510.20" stroke="#222" stroke-width="1.0"/>
<line x1="102.80" y1="510.20" x2="148.50" y2="510.20" stroke="#222" stroke-width="1.0"/>
<line x1="56.40" y1="510.20" x2="56.40" y2="512.60" stroke="#222" stroke-width="0.8"/>
<line x1="67.10" y1="510.20" x2="67.10" y2="512.60" stroke="#222" stroke-width="0.8"/>
<line x1="78.40" y1="510.20" x2="78.40" y2="512.60" stroke="#222" stroke-width="0.8"/>
<line x1="89.30" y1="510.20" x2="89.30" y2="512.60" stroke="#222" stroke-width="0.8"/>
<line x1="110.40" y1="510.20" x2="110.40" y2="512.60" stroke="#222" stroke-width="0.8"/>
<line x1="121.20" y1="510.20" x2="121.20" y2="512.60" stroke="#222" stroke-width="0.8"/>
<line x1="131.80" y1="510.20" x2="131.80" y2="512.60" stroke="#222" stroke-width="0.8"/>
<line x1="142.20" y1="510.20" x2="142.20" y2="512.60" stroke="#222" stroke-width="0.8"/>
<line x1="46.80" y1="510.20" x2="49.40" y2="510.20" stroke="#222" stroke-width="0.9"/>
<text x="44.90" y="512.67" font-size="6.9" text-anchor="end" fill="#1a1a1a" stroke="#1a1a1a" stroke-width="0.14" textLength="4.12" lengthAdjust="spacingAndGlyphs">0</text>
<line x1="46.80" y1="476.60" x2="49.40" y2="476.60" stroke="#222" stroke-width="0.9"/>
<text x="44.90" y="479.07" font-size="6.9" text-anchor="end" fill="#1a1a1a" stroke="#1a1a1a" stroke-width="0.14" textLength="16.48" lengthAdjust="spacingAndGlyphs">1000</text>
<line x1="46.80" y1="443.10" x2="49.40" y2="443.10" stroke="#222" stroke-width="0.9"/>
<text x="44.90" y="445.57" font-size="6.9" text-anchor="end" fill="#1a1a1a" stroke="#1a1a1a" stroke-width="0.14" textLength="16.48" lengthAdjust="spacingAndGlyphs">2000</text>
<rect x="108.20" y="508.90" width="4.40" height="1.30" fill="#2a2a2a"/>
<text transform="translate(21.80,473.90) rotate(-90)" x="0" y="0" font-size="7.5" text-anchor="middle" fill="#1a1a1a" stroke="#1a1a1a" stroke-width="0.3" textLength="30.00" lengthAdjust="spacingAndGlyphs">pg/mL IL-2</text>
<line x1="210.40" y1="458.80" x2="210.40" y2="463.50" stroke="#2a2a2a" stroke-width="1.15"/>
<line x1="208.00" y1="458.80" x2="212.80" y2="458.80" stroke="#2a2a2a" stroke-width="0.9"/>
<rect x="206.95" y="463.50" width="6.90" height="46.90" fill="#164b86"/>
<line x1="263.60" y1="453.80" x2="263.60" y2="457.30" stroke="#2a2a2a" stroke-width="1.15"/>
<line x1="261.20" y1="453.80" x2="266.00" y2="453.80" stroke="#2a2a2a" stroke-width="0.9"/>
<rect x="260.30" y="457.30" width="6.60" height="53.10" fill="#164b86"/>
<line x1="193.10" y1="441.70" x2="193.10" y2="510.90" stroke="#222" stroke-width="1.0"/>
<line x1="193.10" y1="510.40" x2="237.20" y2="510.40" stroke="#222" stroke-width="1.0"/>
<line x1="246.70" y1="510.40" x2="290.60" y2="510.40" stroke="#222" stroke-width="1.0"/>
<line x1="199.40" y1="510.40" x2="199.40" y2="512.80" stroke="#222" stroke-width="0.8"/>
<line x1="210.40" y1="510.40" x2="210.40" y2="512.80" stroke="#222" stroke-width="0.8"/>
<line x1="221.20" y1="510.40" x2="221.20" y2="512.80" stroke="#222" stroke-width="0.8"/>
<line x1="231.50" y1="510.40" x2="231.50" y2="512.80" stroke="#222" stroke-width="0.8"/>
<line x1="253.00" y1="510.40" x2="253.00" y2="512.80" stroke="#222" stroke-width="0.8"/>
<line x1="263.20" y1="510.40" x2="263.20" y2="512.80" stroke="#222" stroke-width="0.8"/>
<line x1="273.80" y1="510.40" x2="273.80" y2="512.80" stroke="#222" stroke-width="0.8"/>
<line x1="284.20" y1="510.40" x2="284.20" y2="512.80" stroke="#222" stroke-width="0.8"/>
<line x1="190.50" y1="510.40" x2="193.10" y2="510.40" stroke="#222" stroke-width="0.9"/>
<text x="188.90" y="513.23" font-size="7.9" text-anchor="end" fill="#1a1a1a" stroke="#1a1a1a" stroke-width="0.14" textLength="4.60" lengthAdjust="spacingAndGlyphs">0</text>
<line x1="190.50" y1="496.80" x2="193.10" y2="496.80" stroke="#222" stroke-width="0.9"/>
<text x="188.90" y="499.63" font-size="7.9" text-anchor="end" fill="#1a1a1a" stroke="#1a1a1a" stroke-width="0.14" textLength="9.20" lengthAdjust="spacingAndGlyphs">50</text>
<line x1="190.50" y1="470.10" x2="193.10" y2="470.10" stroke="#222" stroke-width="0.9"/>
<text x="188.90" y="472.93" font-size="7.9" text-anchor="end" fill="#1a1a1a" stroke="#1a1a1a" stroke-width="0.14" textLength="13.80" lengthAdjust="spacingAndGlyphs">150</text>
<line x1="190.50" y1="443.50" x2="193.10" y2="443.50" stroke="#222" stroke-width="0.9"/>
<text x="188.90" y="446.33" font-size="7.9" text-anchor="end" fill="#1a1a1a" stroke="#1a1a1a" stroke-width="0.14" textLength="13.80" lengthAdjust="spacingAndGlyphs">250</text>
<rect x="197.20" y="509.10" width="4.40" height="1.30" fill="#2a2a2a"/>
<rect x="219.00" y="509.10" width="4.40" height="1.30" fill="#2a2a2a"/>
<rect x="229.30" y="509.10" width="4.40" height="1.30" fill="#2a2a2a"/>
<rect x="271.60" y="509.10" width="4.40" height="1.30" fill="#2a2a2a"/>
<rect x="282.00" y="509.10" width="4.40" height="1.30" fill="#2a2a2a"/>
<rect x="142.50" y="524.10" width="9.00" height="4.60" fill="#8e9cc8"/>
<text x="154.00" y="528.80" font-size="6.7" text-anchor="start" fill="#1a1a1a" stroke="#1a1a1a" stroke-width="0.14" textLength="19.10" lengthAdjust="spacingAndGlyphs">NTD T</text>
<rect x="142.50" y="533.50" width="9.00" height="4.60" fill="#164b86"/>
<text x="154.00" y="538.20" font-size="6.7" text-anchor="start" fill="#1a1a1a" stroke="#1a1a1a" stroke-width="0.14" textLength="41.80" lengthAdjust="spacingAndGlyphs">BCMA CAR-T</text>
<rect x="142.50" y="543.30" width="9.00" height="4.60" fill="#e69a96"/>
<text x="154.00" y="548.00" font-size="6.7" text-anchor="start" fill="#1a1a1a" stroke="#1a1a1a" stroke-width="0.14" textLength="30.20" lengthAdjust="spacingAndGlyphs">NTD iNKT</text>
<rect x="142.50" y="553.30" width="9.00" height="4.60" fill="#c4072c"/>
<text x="154.00" y="558.00" font-size="6.7" text-anchor="start" fill="#1a1a1a" stroke="#1a1a1a" stroke-width="0.14" textLength="53.70" lengthAdjust="spacingAndGlyphs">BCMA CAR-iNKT</text>
<text x="317.30" y="239.10" font-size="10.6" text-anchor="start" fill="#000" font-weight="bold">D</text>
<text x="383.80" y="238.90" font-size="8.2" text-anchor="start" fill="#1a1a1a" stroke="#1a1a1a" stroke-width="0.14" textLength="75.30" lengthAdjust="spacingAndGlyphs">MM.1S-CG Targets</text>
<text x="411.50" y="253.10" font-size="8.0" text-anchor="start" fill="#1a1a1a" stroke="#1a1a1a" stroke-width="0.14" textLength="26.20" lengthAdjust="spacingAndGlyphs">Donor 7</text>
<line x1="411.50" y1="255.10" x2="437.40" y2="255.10" stroke="#333" stroke-width="1.0"/>
<path d="M390.54,325.80 L390.54,263.30 Q390.54,261.30 392.54,261.30 L395.74,261.30 Q397.74,261.30 397.74,263.30 L397.74,325.80 Z" fill="#164b86" stroke="#333" stroke-opacity="0.35" stroke-width="0.6"/>
<line x1="407.46" y1="271.80" x2="407.46" y2="277.90" stroke="#2a2a2a" stroke-width="1.15"/>
<line x1="405.06" y1="271.80" x2="409.86" y2="271.80" stroke="#2a2a2a" stroke-width="0.9"/>
<path d="M403.76,325.80 L403.76,279.90 Q403.76,277.90 405.76,277.90 L409.16,277.90 Q411.16,277.90 411.16,279.90 L411.16,325.80 Z" fill="#b0c48b" stroke="#333" stroke-opacity="0.35" stroke-width="0.6"/>
<path d="M417.53,325.80 L417.53,324.65 Q417.53,323.50 418.68,323.50 L422.88,323.50 Q424.03,323.50 424.03,324.65 L424.03,325.80 Z" fill="#c9c9c9" stroke="#333" stroke-opacity="0.35" stroke-width="0.6"/>
<path d="M430.40,325.80 L430.40,323.00 Q430.40,321.00 432.40,321.00 L435.80,321.00 Q437.80,321.00 437.80,323.00 L437.80,325.80 Z" fill="#4b1757" stroke="#333" stroke-opacity="0.35" stroke-width="0.6"/>
<path d="M443.72,325.80 L443.72,319.30 Q443.72,317.30 445.72,317.30 L449.12,317.30 Q451.12,317.30 451.12,319.30 L451.12,325.80 Z" fill="#c4072c" stroke="#333" stroke-opacity="0.35" stroke-width="0.6"/>
<path d="M457.09,325.80 L457.09,322.70 Q457.09,320.70 459.09,320.70 L462.39,320.70 Q464.39,320.70 464.39,322.70 L464.39,325.80 Z" fill="#f4a024" stroke="#333" stroke-opacity="0.35" stroke-width="0.6"/>
<line x1="359.20" y1="250.70" x2="359.20" y2="326.30" stroke="#222" stroke-width="1.0"/>
<line x1="359.20" y1="325.80" x2="468.20" y2="325.80" stroke="#222" stroke-width="1.0"/>
<line x1="367.50" y1="325.80" x2="367.50" y2="328.20" stroke="#222" stroke-width="0.8"/>
<line x1="380.82" y1="325.80" x2="380.82" y2="328.20" stroke="#222" stroke-width="0.8"/>
<line x1="394.14" y1="325.80" x2="394.14" y2="328.20" stroke="#222" stroke-width="0.8"/>
<line x1="407.46" y1="325.80" x2="407.46" y2="328.20" stroke="#222" stroke-width="0.8"/>
<line x1="420.78" y1="325.80" x2="420.78" y2="328.20" stroke="#222" stroke-width="0.8"/>
<line x1="434.10" y1="325.80" x2="434.10" y2="328.20" stroke="#222" stroke-width="0.8"/>
<line x1="447.42" y1="325.80" x2="447.42" y2="328.20" stroke="#222" stroke-width="0.8"/>
<line x1="460.74" y1="325.80" x2="460.74" y2="328.20" stroke="#222" stroke-width="0.8"/>
<line x1="356.60" y1="325.60" x2="359.20" y2="325.60" stroke="#222" stroke-width="0.9"/>
<text x="354.10" y="328.11" font-size="7.0" text-anchor="end" fill="#1a1a1a" stroke="#1a1a1a" stroke-width="0.14" textLength="4.30" lengthAdjust="spacingAndGlyphs">0</text>
<line x1="356.60" y1="307.40" x2="359.20" y2="307.40" stroke="#222" stroke-width="0.9"/>
<text x="354.10" y="309.91" font-size="7.0" text-anchor="end" fill="#1a1a1a" stroke="#1a1a1a" stroke-width="0.14" textLength="25.80" lengthAdjust="spacingAndGlyphs">100000</text>
<line x1="356.60" y1="289.30" x2="359.20" y2="289.30" stroke="#222" stroke-width="0.9"/>
<text x="354.10" y="291.81" font-size="7.0" text-anchor="end" fill="#1a1a1a" stroke="#1a1a1a" stroke-width="0.14" textLength="25.80" lengthAdjust="spacingAndGlyphs">200000</text>
<line x1="356.60" y1="270.80" x2="359.20" y2="270.80" stroke="#222" stroke-width="0.9"/>
<text x="354.10" y="273.31" font-size="7.0" text-anchor="end" fill="#1a1a1a" stroke="#1a1a1a" stroke-width="0.14" textLength="25.80" lengthAdjust="spacingAndGlyphs">300000</text>
<line x1="356.60" y1="252.00" x2="359.20" y2="252.00" stroke="#222" stroke-width="0.9"/>
<text x="354.10" y="254.51" font-size="7.0" text-anchor="end" fill="#1a1a1a" stroke="#1a1a1a" stroke-width="0.14" textLength="25.80" lengthAdjust="spacingAndGlyphs">400000</text>
<text transform="translate(323.80,287.00) rotate(-90)" x="0" y="0" font-size="7.5" text-anchor="middle" fill="#1a1a1a" stroke="#1a1a1a" stroke-width="0.3" textLength="33.80" lengthAdjust="spacingAndGlyphs">pg/mL INF&#947;</text>
<line x1="394.14" y1="366.00" x2="394.14" y2="369.40" stroke="#2a2a2a" stroke-width="1.15"/>
<line x1="391.74" y1="366.00" x2="396.54" y2="366.00" stroke="#2a2a2a" stroke-width="0.9"/>
<path d="M390.54,419.30 L390.54,371.40 Q390.54,369.40 392.54,369.40 L395.74,369.40 Q397.74,369.40 397.74,371.40 L397.74,419.30 Z" fill="#164b86" stroke="#333" stroke-opacity="0.35" stroke-width="0.6"/>
<line x1="407.46" y1="382.30" x2="407.46" y2="386.00" stroke="#2a2a2a" stroke-width="1.15"/>
<line x1="405.06" y1="382.30" x2="409.86" y2="382.30" stroke="#2a2a2a" stroke-width="0.9"/>
<path d="M403.76,419.30 L403.76,388.00 Q403.76,386.00 405.76,386.00 L409.16,386.00 Q411.16,386.00 411.16,388.00 L411.16,419.30 Z" fill="#b0c48b" stroke="#333" stroke-opacity="0.35" stroke-width="0.6"/>
<path d="M417.53,419.30 L417.53,418.35 Q417.53,417.40 418.48,417.40 L423.08,417.40 Q424.03,417.40 424.03,418.35 L424.03,419.30 Z" fill="#c9c9c9" stroke="#333" stroke-opacity="0.35" stroke-width="0.6"/>
<path d="M430.40,419.30 L430.40,417.75 Q430.40,416.20 431.95,416.20 L436.25,416.20 Q437.80,416.20 437.80,417.75 L437.80,419.30 Z" fill="#4b1757" stroke="#333" stroke-opacity="0.35" stroke-width="0.6"/>
<path d="M443.72,419.30 L443.72,412.60 Q443.72,410.60 445.72,410.60 L449.12,410.60 Q451.12,410.60 451.12,412.60 L451.12,419.30 Z" fill="#c4072c" stroke="#333" stroke-opacity="0.35" stroke-width="0.6"/>
<path d="M457.09,419.30 L457.09,413.50 Q457.09,411.50 459.09,411.50 L462.39,411.50 Q464.39,411.50 464.39,413.50 L464.39,419.30 Z" fill="#f4a024" stroke="#333" stroke-opacity="0.35" stroke-width="0.6"/>
<line x1="359.20" y1="343.80" x2="359.20" y2="419.80" stroke="#222" stroke-width="1.0"/>
<line x1="359.20" y1="419.30" x2="468.20" y2="419.30" stroke="#222" stroke-width="1.0"/>
<line x1="367.50" y1="419.30" x2="367.50" y2="421.70" stroke="#222" stroke-width="0.8"/>
<line x1="380.82" y1="419.30" x2="380.82" y2="421.70" stroke="#222" stroke-width="0.8"/>
<line x1="394.14" y1="419.30" x2="394.14" y2="421.70" stroke="#222" stroke-width="0.8"/>
<line x1="407.46" y1="419.30" x2="407.46" y2="421.70" stroke="#222" stroke-width="0.8"/>
<line x1="420.78" y1="419.30" x2="420.78" y2="421.70" stroke="#222" stroke-width="0.8"/>
<line x1="434.10" y1="419.30" x2="434.10" y2="421.70" stroke="#222" stroke-width="0.8"/>
<line x1="447.42" y1="419.30" x2="447.42" y2="421.70" stroke="#222" stroke-width="0.8"/>
<line x1="460.74" y1="419.30" x2="460.74" y2="421.70" stroke="#222" stroke-width="0.8"/>
<line x1="356.60" y1="419.30" x2="359.20" y2="419.30" stroke="#222" stroke-width="0.9"/>
<text x="354.30" y="421.88" font-size="7.2" text-anchor="end" fill="#1a1a1a" stroke="#1a1a1a" stroke-width="0.14" textLength="4.35" lengthAdjust="spacingAndGlyphs">0</text>
<line x1="356.60" y1="401.40" x2="359.20" y2="401.40" stroke="#222" stroke-width="0.9"/>
<text x="354.30" y="403.98" font-size="7.2" text-anchor="end" fill="#1a1a1a" stroke="#1a1a1a" stroke-width="0.14" textLength="17.40" lengthAdjust="spacingAndGlyphs">5000</text>
<line x1="356.60" y1="382.90" x2="359.20" y2="382.90" stroke="#222" stroke-width="0.9"/>
<text x="354.30" y="385.48" font-size="7.2" text-anchor="end" fill="#1a1a1a" stroke="#1a1a1a" stroke-width="0.14" textLength="21.75" lengthAdjust="spacingAndGlyphs">10000</text>
<line x1="356.60" y1="363.80" x2="359.20" y2="363.80" stroke="#222" stroke-width="0.9"/>
<text x="354.30" y="366.38" font-size="7.2" text-anchor="end" fill="#1a1a1a" stroke="#1a1a1a" stroke-width="0.14" textLength="21.75" lengthAdjust="spacingAndGlyphs">15000</text>
<line x1="356.60" y1="345.30" x2="359.20" y2="345.30" stroke="#222" stroke-width="0.9"/>
<text transform="translate(329.00,383.00) rotate(-90)" x="0" y="0" font-size="7.5" text-anchor="middle" fill="#1a1a1a" stroke="#1a1a1a" stroke-width="0.3" textLength="27.70" lengthAdjust="spacingAndGlyphs">pg/mL TNF</text>
<line x1="394.14" y1="447.50" x2="394.14" y2="450.50" stroke="#2a2a2a" stroke-width="1.15"/>
<line x1="391.74" y1="447.50" x2="396.54" y2="447.50" stroke="#2a2a2a" stroke-width="0.9"/>
<path d="M390.54,510.40 L390.54,452.50 Q390.54,450.50 392.54,450.50 L395.74,450.50 Q397.74,450.50 397.74,452.50 L397.74,510.40 Z" fill="#164b86" stroke="#333" stroke-opacity="0.35" stroke-width="0.6"/>
<line x1="407.46" y1="462.50" x2="407.46" y2="465.60" stroke="#2a2a2a" stroke-width="1.15"/>
<line x1="405.06" y1="462.50" x2="409.86" y2="462.50" stroke="#2a2a2a" stroke-width="0.9"/>
<path d="M403.76,510.40 L403.76,467.60 Q403.76,465.60 405.76,465.60 L409.16,465.60 Q411.16,465.60 411.16,467.60 L411.16,510.40 Z" fill="#b0c48b" stroke="#333" stroke-opacity="0.35" stroke-width="0.6"/>
<path d="M444.42,510.40 L444.42,509.85 Q444.42,509.30 444.97,509.30 L449.87,509.30 Q450.42,509.30 450.42,509.85 L450.42,510.40 Z" fill="#c4072c" stroke="#333" stroke-opacity="0.35" stroke-width="0.6"/>
<path d="M457.74,510.40 L457.74,509.55 Q457.74,508.70 458.59,508.70 L462.89,508.70 Q463.74,508.70 463.74,509.55 L463.74,510.40 Z" fill="#f4a024" stroke="#333" stroke-opacity="0.35" stroke-width="0.6"/>
<line x1="359.10" y1="435.80" x2="359.10" y2="510.90" stroke="#222" stroke-width="1.0"/>
<line x1="359.10" y1="510.40" x2="468.20" y2="510.40" stroke="#222" stroke-width="1.0"/>
<line x1="367.50" y1="510.40" x2="367.50" y2="512.80" stroke="#222" stroke-width="0.8"/>
<line x1="380.82" y1="510.40" x2="380.82" y2="512.80" stroke="#222" stroke-width="0.8"/>
<line x1="394.14" y1="510.40" x2="394.14" y2="512.80" stroke="#222" stroke-width="0.8"/>
<line x1="407.46" y1="510.40" x2="407.46" y2="512.80" stroke="#222" stroke-width="0.8"/>
<line x1="420.78" y1="510.40" x2="420.78" y2="512.80" stroke="#222" stroke-width="0.8"/>
<line x1="434.10" y1="510.40" x2="434.10" y2="512.80" stroke="#222" stroke-width="0.8"/>
<line x1="447.42" y1="510.40" x2="447.42" y2="512.80" stroke="#222" stroke-width="0.8"/>
<line x1="460.74" y1="510.40" x2="460.74" y2="512.80" stroke="#222" stroke-width="0.8"/>
<line x1="356.50" y1="510.20" x2="359.10" y2="510.20" stroke="#222" stroke-width="0.9"/>
<text x="354.30" y="512.78" font-size="7.2" text-anchor="end" fill="#1a1a1a" stroke="#1a1a1a" stroke-width="0.14" textLength="4.35" lengthAdjust="spacingAndGlyphs">0</text>
<line x1="356.50" y1="492.10" x2="359.10" y2="492.10" stroke="#222" stroke-width="0.9"/>
<text x="354.30" y="494.68" font-size="7.2" text-anchor="end" fill="#1a1a1a" stroke="#1a1a1a" stroke-width="0.14" textLength="17.40" lengthAdjust="spacingAndGlyphs">2000</text>
<line x1="356.50" y1="474.20" x2="359.10" y2="474.20" stroke="#222" stroke-width="0.9"/>
<text x="354.30" y="476.78" font-size="7.2" text-anchor="end" fill="#1a1a1a" stroke="#1a1a1a" stroke-width="0.14" textLength="17.40" lengthAdjust="spacingAndGlyphs">4000</text>
<line x1="356.50" y1="455.80" x2="359.10" y2="455.80" stroke="#222" stroke-width="0.9"/>
<text x="354.30" y="458.38" font-size="7.2" text-anchor="end" fill="#1a1a1a" stroke="#1a1a1a" stroke-width="0.14" textLength="17.40" lengthAdjust="spacingAndGlyphs">6000</text>
<line x1="356.50" y1="437.90" x2="359.10" y2="437.90" stroke="#222" stroke-width="0.9"/>
<text x="354.30" y="440.48" font-size="7.2" text-anchor="end" fill="#1a1a1a" stroke="#1a1a1a" stroke-width="0.14" textLength="17.40" lengthAdjust="spacingAndGlyphs">8000</text>
<text transform="translate(330.60,473.70) rotate(-90)" x="0" y="0" font-size="7.5" text-anchor="middle" fill="#1a1a1a" stroke="#1a1a1a" stroke-width="0.3" textLength="30.30" lengthAdjust="spacingAndGlyphs">pg/mL IL-2</text>
<rect x="330.40" y="527.60" width="8.60" height="4.60" fill="#a78cc2"/>
<text x="341.90" y="532.30" font-size="6.7" text-anchor="start" fill="#1a1a1a" stroke="#1a1a1a" stroke-width="0.14" textLength="19.10" lengthAdjust="spacingAndGlyphs">NTD T</text>
<rect x="330.40" y="536.90" width="8.60" height="4.60" fill="#3aa63a"/>
<text x="341.90" y="541.60" font-size="6.7" text-anchor="start" fill="#1a1a1a" stroke="#1a1a1a" stroke-width="0.14" textLength="53.10" lengthAdjust="spacingAndGlyphs">NTD T <tspan font-size="6.5" fill="#3a3a3a" stroke="none">rhIL-7-hyFc</tspan></text>
<rect x="330.40" y="546.50" width="8.60" height="4.60" fill="#c9c9c9"/>
<text x="341.90" y="551.20" font-size="6.7" text-anchor="start" fill="#1a1a1a" stroke="#1a1a1a" stroke-width="0.14" textLength="30.20" lengthAdjust="spacingAndGlyphs">NTD iNKT</text>
<rect x="330.40" y="555.70" width="8.60" height="4.60" fill="#4b1757"/>
<text x="341.90" y="560.40" font-size="6.7" text-anchor="start" fill="#1a1a1a" stroke="#1a1a1a" stroke-width="0.14" textLength="65.20" lengthAdjust="spacingAndGlyphs">NTD iNKT <tspan font-size="6.5" fill="#3a3a3a" stroke="none">rhIL-7-hyFc</tspan></text>
<rect x="414.40" y="527.30" width="8.80" height="4.60" fill="#164b86"/>
<text x="426.20" y="532.00" font-size="6.7" text-anchor="start" fill="#1a1a1a" stroke="#1a1a1a" stroke-width="0.14" textLength="41.50" lengthAdjust="spacingAndGlyphs">BCMA CAR-T</text>
<rect x="414.40" y="536.90" width="8.80" height="4.60" fill="#b0c48b"/>
<text x="426.20" y="541.60" font-size="6.7" text-anchor="start" fill="#1a1a1a" stroke="#1a1a1a" stroke-width="0.14" textLength="76.10" lengthAdjust="spacingAndGlyphs">BCMA CAR-T <tspan font-size="6.5" fill="#3a3a3a" stroke="none">rhIL-7-hyFc</tspan></text>
<rect x="414.40" y="546.50" width="8.80" height="4.60" fill="#c4072c"/>
<text x="426.20" y="551.20" font-size="6.7" text-anchor="start" fill="#1a1a1a" stroke="#1a1a1a" stroke-width="0.14" textLength="52.70" lengthAdjust="spacingAndGlyphs">BCMA CAR-iNKT</text>
<rect x="414.40" y="556.10" width="8.80" height="4.60" fill="#f4a024"/>
<text x="426.20" y="560.80" font-size="6.7" text-anchor="start" fill="#1a1a1a" stroke="#1a1a1a" stroke-width="0.14" textLength="87.30" lengthAdjust="spacingAndGlyphs">BCMA CAR-iNKT <tspan font-size="6.5" fill="#3a3a3a" stroke="none">rhIL-7-hyFc</tspan></text>
<rect x="0.5" y="0.5" width="519" height="568" fill="none" stroke="#666" stroke-width="1"/>
</svg>
</body></html>
